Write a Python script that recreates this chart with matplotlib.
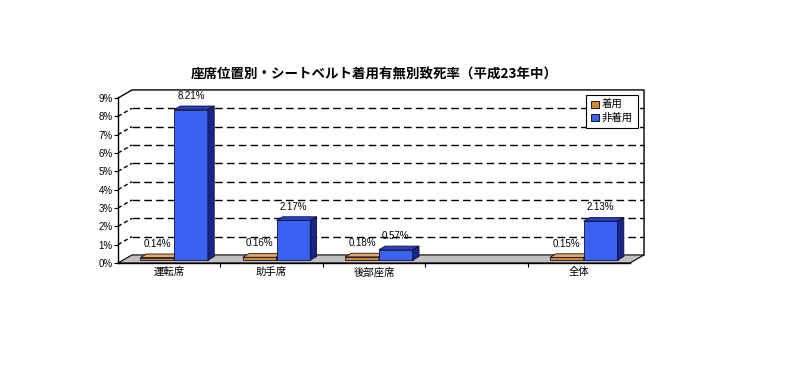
import matplotlib
matplotlib.use("Agg")
import matplotlib.pyplot as plt
from matplotlib.patches import Polygon, Patch

plt.rcParams['font.family'] = ['Noto Sans CJK JP', 'DejaVu Sans']

title = "座席位置別・シートベルト着用有無別致死率（平成23年中）"
categories = ["運転席", "助手席", "後部座席", "", "全体"]
series_names = ["着用", "非着用"]
worn = [0.14, 0.16, 0.18, None, 0.15]
not_worn = [8.21, 2.17, 0.57, None, 2.13]
yticks = list(range(0, 10))

# colours: front, top, side
styles = {
    "着用": ("#d0893a", "#e6a85a", "#8a5520"),
    "非着用": ("#3a62f2", "#2442c4", "#18268a"),
}

# pseudo 3d depth offsets in data units
DX, DY = 0.137, 0.44
Z0, Z1 = 0.35, 0.8
BW = 0.33


def pt(x, y, z):
    return (x + z * DX, y + z * DY)


fig = plt.figure(figsize=(8, 3.88), dpi=100)
ax = fig.add_axes([118 / 800, 125 / 388, 512 / 800, 165 / 388])
ax.set_xlim(-0.5, 4.5)
ax.set_ylim(0, 9)
ax.set_facecolor("none")

xl, xr = -0.5, 4.5

# back wall gridlines (dashed) and left wall diagonals
for k in yticks[1:-1]:
    ax.plot([pt(xl, k, 1)[0], pt(xr, k, 1)[0]], [k + DY, k + DY],
            color="black", lw=1.0, ls=(0, (5.5, 3)), clip_on=False, zorder=1)
    ax.plot([xl, pt(xl, k, 1)[0]], [k, k + DY],
            color="black", lw=1.0, ls=(0, (3, 2)), clip_on=False, zorder=1)

# wall outline
ax.plot([xl, pt(xl, 9, 1)[0], pt(xr, 9, 1)[0], pt(xr, 0, 1)[0]],
        [9, 9 + DY, 9 + DY, DY], color="black", lw=1.0, clip_on=False, zorder=1)

# floor
floor = Polygon([pt(xl, 0, 0), pt(xr, 0, 0), pt(xr, 0, 1), pt(xl, 0, 1)],
                closed=True, facecolor="#c0c0c0", edgecolor="black", lw=0.8,
                clip_on=False, zorder=2)
ax.add_patch(floor)


def bar3d(xc0, xc1, v, front, top, side):
    faces = [
        ([pt(xc0, 0, Z0), pt(xc1, 0, Z0), pt(xc1, v, Z0), pt(xc0, v, Z0)], front),
        ([pt(xc0, v, Z0), pt(xc1, v, Z0), pt(xc1, v, Z1), pt(xc0, v, Z1)], top),
        ([pt(xc1, 0, Z0), pt(xc1, 0, Z1), pt(xc1, v, Z1), pt(xc1, v, Z0)], side),
    ]
    for verts, col in faces:
        ax.add_patch(Polygon(verts, closed=True, facecolor=col, edgecolor="#101030",
                             lw=0.6, clip_on=False, zorder=3))


for i, cat in enumerate(categories):
    for j, (name, vals) in enumerate(zip(series_names, [worn, not_worn])):
        v = vals[i]
        if v is None:
            continue
        x0 = i - BW + j * BW
        x1 = x0 + BW
        bar3d(x0, x1, v, *styles[name])
        lx, ly = pt((x0 + x1) / 2, v, Z0)
        ax.annotate(f"{v:.2f}%", (lx, ly), xytext=(0, 10), textcoords="offset points",
                    ha="center", va="center", fontsize=7, family="Liberation Sans",
                    zorder=4, annotation_clip=False)

# axes
for s in ["top", "right"]:
    ax.spines[s].set_visible(False)
ax.spines["left"].set_linewidth(1.0)
ax.spines["bottom"].set_linewidth(1.0)
ax.spines["left"].set_zorder(5)
ax.set_yticks(yticks)
ax.set_yticklabels([f"{k}%" for k in yticks], fontsize=7, family="Liberation Sans")
ax.tick_params(axis="y", length=3, width=0.8, pad=1)
ax.set_xticks([i + 0.5 for i in range(len(categories) - 1)])
ax.set_xticklabels([])
ax.set_xticks(range(len(categories)), minor=True)
ax.set_xticklabels(categories, minor=True, fontsize=7.5)
ax.tick_params(axis="x", which="major", length=3, width=0.8)
ax.tick_params(axis="x", which="minor", length=0, pad=3)

handles = [Patch(facecolor=styles[n][0], edgecolor="black", lw=0.6) for n in series_names]
leg = ax.legend(handles, series_names, loc="upper right", bbox_to_anchor=(1.016, 1.02),
                fontsize=7.5, frameon=True, fancybox=False, edgecolor="black",
                framealpha=1, handlelength=0.7, handleheight=0.7, handletextpad=0.3,
                borderpad=0.5, labelspacing=0.3, borderaxespad=0)
leg.get_frame().set_linewidth(0.8)
leg.set_zorder(6)

fig.text(374 / 800, 1 - 74.5 / 388, title, ha="center", va="center",
         fontsize=9.7, weight="bold")

fig.savefig("out.png", dpi=100)
